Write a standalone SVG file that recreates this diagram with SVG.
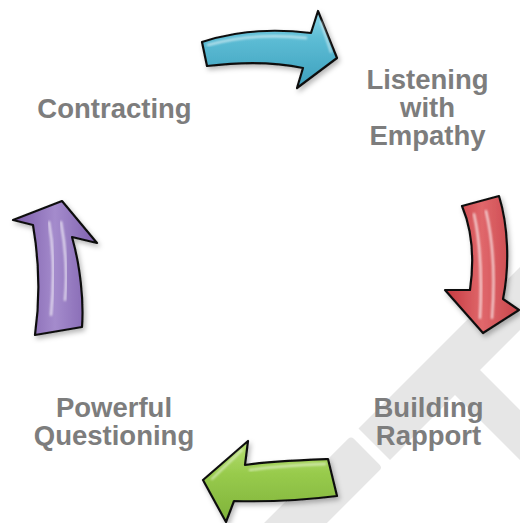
<svg xmlns="http://www.w3.org/2000/svg" width="520" height="523" viewBox="0 0 520 523">
  <defs>
    <style>
      .label { font-family: "Liberation Sans", Arial, Helvetica, sans-serif; font-weight: bold; font-size: 27.5px; fill: #7d7d7d; text-anchor: middle; }
      .mark { fill: #e6e6e6; }
      .arrow { stroke: #111; stroke-width: 2.2; stroke-linejoin: round; filter: url(#shadow); }
      .gloss { fill: none; stroke: #fff; stroke-linecap: round; filter: url(#soft); }
    </style>
    <filter id="shadow" x="-20%" y="-20%" width="150%" height="150%">
      <feDropShadow dx="2" dy="3" stdDeviation="2.5" flood-color="#000" flood-opacity="0.28"/>
    </filter>
    <filter id="soft" x="-20%" y="-20%" width="140%" height="140%">
      <feGaussianBlur stdDeviation="0.9"/>
    </filter>
    <linearGradient id="gCyan" x1="0" y1="0" x2="0" y2="1">
      <stop offset="0" stop-color="#8fd6e8"/>
      <stop offset="0.35" stop-color="#5dbdd5"/>
      <stop offset="1" stop-color="#3d9fbc"/>
    </linearGradient>
    <linearGradient id="gRed" x1="0" y1="0" x2="1" y2="0">
      <stop offset="0" stop-color="#c4393f"/>
      <stop offset="0.5" stop-color="#e0676b"/>
      <stop offset="1" stop-color="#c8454a"/>
    </linearGradient>
    <linearGradient id="gGreen" x1="0" y1="0" x2="0" y2="1">
      <stop offset="0" stop-color="#b7de74"/>
      <stop offset="0.4" stop-color="#98cb4c"/>
      <stop offset="1" stop-color="#7fb23a"/>
    </linearGradient>
    <linearGradient id="gPurple" x1="0" y1="0" x2="1" y2="0">
      <stop offset="0" stop-color="#7a5aa8"/>
      <stop offset="0.5" stop-color="#a48bcc"/>
      <stop offset="1" stop-color="#7e60ad"/>
    </linearGradient>
  </defs>

  <rect width="520" height="523" fill="#ffffff"/>

  <!-- light grey background mark -->
  <g id="mark">
    <polygon class="mark" points="358.5,428.5 520,267 520,330 480,370 520,410 520,460 455,395 390,460"/>
    <polygon class="mark" points="351,441.7 376.8,467.5 314.3,530 262.7,530" stroke="#e6e6e6" stroke-width="8" stroke-linejoin="round"/>
  </g>

  <!-- cycle arrows -->
  <g id="connectors">
    <g id="arrow-contracting-listening">
      <path class="arrow" fill="url(#gCyan)" d="M202,42 C232,32 270,28 311,33 L318,11 L337,58 L297,88 L303,68 C275,62 240,62 207,66 Z"/>
      <path class="gloss" stroke-width="2.5" opacity="0.55" d="M208,45 C238,37 270,34 306,38"/>
      <path class="gloss" stroke-width="2" opacity="0.6" d="M321,22 L331,52"/>
    </g>
    <g id="arrow-listening-building">
      <path class="arrow" fill="url(#gRed)" d="M462,206 L499,196 C508,225 510,265 503,299 L519,310 L483,333 L445,290 L470,290 C474,262 473,232 462,206 Z"/>
      <path class="gloss" stroke-width="2.2" opacity="0.75" d="M474,214 C481,245 482,280 480,318"/>
      <path class="gloss" stroke-width="2.2" opacity="0.75" d="M486,211 C494,245 495,280 492,318"/>
    </g>
    <g id="arrow-building-questioning">
      <path class="arrow" fill="url(#gGreen)" d="M245,465 C270,461 300,460 328,459 L337,496 C305,500 270,502 234,501 L226,522 L203,480 L248,441 Z"/>
      <path class="gloss" stroke-width="2.5" opacity="0.5" d="M250,470 C275,466 300,465 325,464"/>
      <path class="gloss" stroke-width="2" opacity="0.55" d="M242,450 L212,479"/>
    </g>
    <g id="arrow-questioning-contracting">
      <path class="arrow" fill="url(#gPurple)" d="M33,225 L13,220 L62,201 L97,243 L72,237 C80,265 84,300 82,327 L35,335 C40,300 39,260 33,225 Z"/>
      <path class="gloss" stroke-width="2.2" opacity="0.75" d="M49,222 C54,250 54,285 51,315"/>
      <path class="gloss" stroke-width="2.2" opacity="0.75" d="M61,222 C66,250 67,280 65,300"/>
    </g>
  </g>

  <g id="node-contracting">
    <text class="label" x="114.5" y="118">Contracting</text>
  </g>
  <g id="node-listening">
    <text class="label" x="427.5" y="89">Listening</text>
    <text class="label" x="427.5" y="117">with</text>
    <text class="label" x="427.5" y="145">Empathy</text>
  </g>
  <g id="node-building">
    <text class="label" x="428.5" y="417">Building</text>
    <text class="label" x="428.5" y="445">Rapport</text>
  </g>
  <g id="node-questioning">
    <text class="label" x="114" y="417">Powerful</text>
    <text class="label" x="114" y="445">Questioning</text>
  </g>
</svg>
